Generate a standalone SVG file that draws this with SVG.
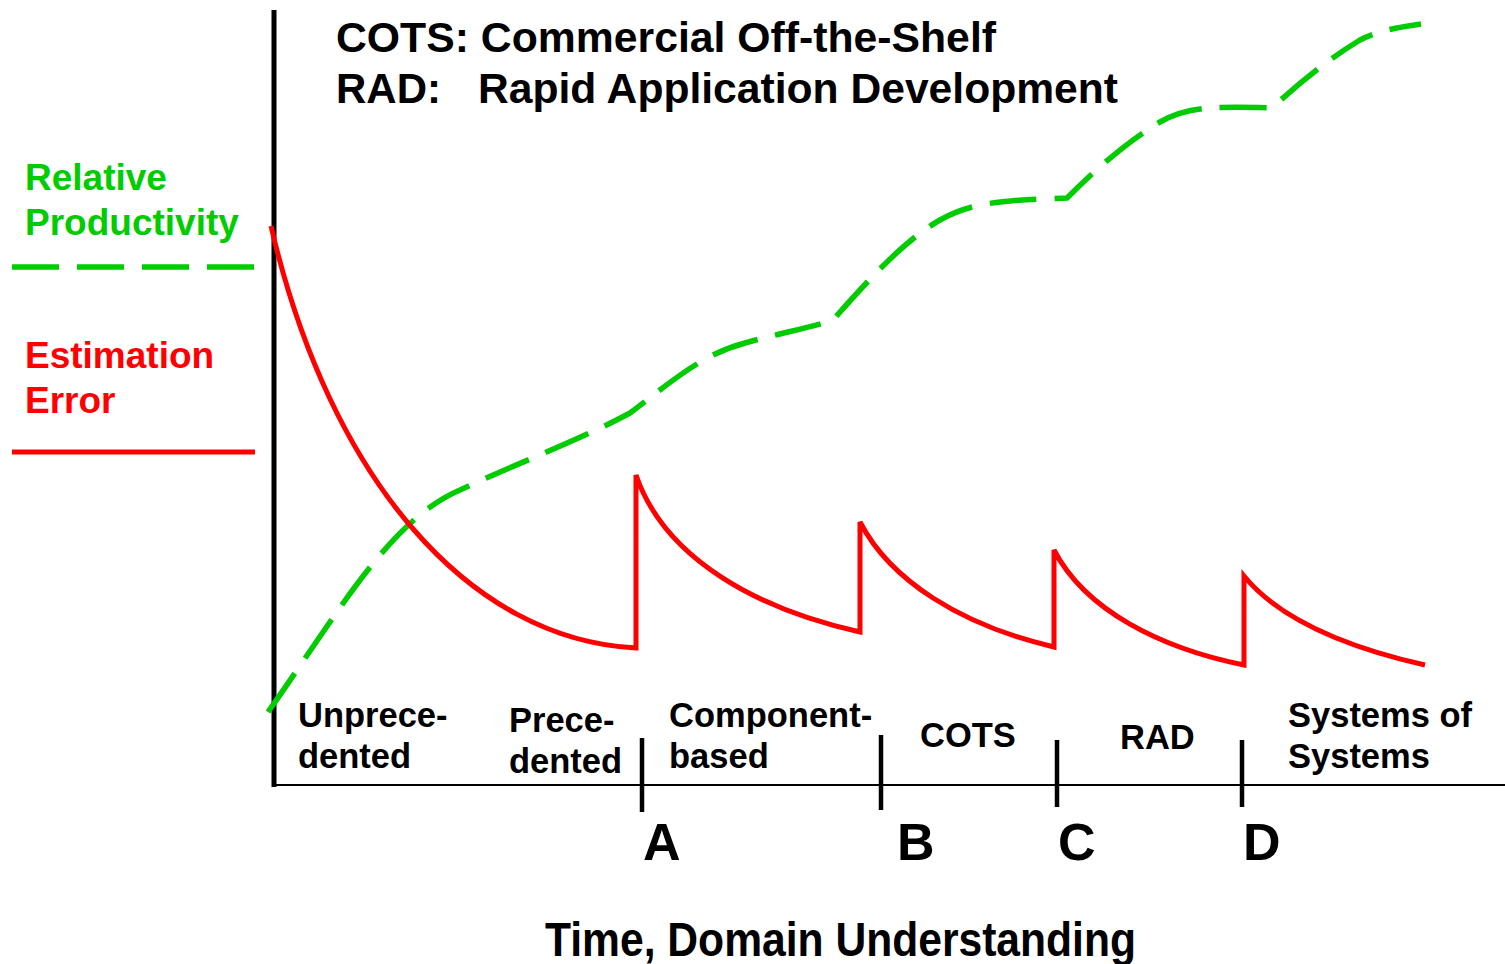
<svg xmlns="http://www.w3.org/2000/svg" width="1505" height="964" viewBox="0 0 1505 964">
<style>
text{font-family:"Liberation Sans",Arial,sans-serif;font-weight:bold;fill:#000}
.t{font-size:42px}
.ph{font-size:34.5px}
.lt{font-size:52px}
.g{fill:#00CC00;font-size:37px}
.r{fill:#FF0000;font-size:37px}
.gl{fill:none;stroke:#00CC00;stroke-width:5.5;stroke-dasharray:47 18}
.rl{fill:none;stroke:#FF0000;stroke-width:5;stroke-linejoin:miter}
.ax{stroke:#000;fill:none}
</style>
<rect width="1505" height="964" fill="#fff"/>
<g id="title">
<text class="t" x="336" y="52" textLength="660" lengthAdjust="spacingAndGlyphs">COTS: Commercial Off-the-Shelf</text>
<text class="t" x="336" y="103">RAD:</text>
<text class="t" x="478" y="103" textLength="640" lengthAdjust="spacingAndGlyphs">Rapid Application Development</text>
</g>
<g id="legend">
<text class="g" x="25" y="190">Relative</text>
<text class="g" x="25" y="235">Productivity</text>
<line class="gl" x1="12" y1="267" x2="255" y2="267" stroke-dasharray="48 17"/>
<text class="r" x="25" y="368">Estimation</text>
<text class="r" x="25" y="413">Error</text>
<line class="rl" x1="12" y1="452" x2="255" y2="452"/>
</g>
<g id="axes">
<line class="ax" x1="274" y1="10" x2="274" y2="787" stroke-width="5"/>
<line class="ax" x1="272" y1="785" x2="1505" y2="785" stroke-width="2"/>
<line class="ax" x1="642" y1="738" x2="642" y2="812" stroke-width="4.5"/>
<line class="ax" x1="881" y1="735" x2="881" y2="810" stroke-width="4.5"/>
<line class="ax" x1="1057" y1="740" x2="1057" y2="807" stroke-width="4.5"/>
<line class="ax" x1="1242" y1="740" x2="1242" y2="807" stroke-width="4.5"/>
</g>
<g id="connectors">
<path id="productivity" class="gl" d="M268,712 C340,610 390,520 460,490 C520,462 580,440 630,413 C670,383 700,355 745,343 C780,333 810,328 833,320 C870,278 905,240 940,220 C970,203 1000,200 1067,198 C1100,165 1130,140 1160,122 C1185,108 1205,106 1272,108 C1300,82 1330,58 1360,40 C1380,30 1400,27 1421,24"/>
<path id="error" class="rl" d="M271,226 C330,480 470,640 636,648 L636,475 C665,560 760,610 860,632 L860,522 C890,580 960,625 1054,647 L1054,550 C1085,610 1160,648 1244,665 L1244,576 C1280,620 1350,648 1425,665"/>
</g>
<g id="phases">
<text class="ph" x="298" y="727">Unprece-</text>
<text class="ph" x="298" y="768">dented</text>
<text class="ph" x="509" y="732">Prece-</text>
<text class="ph" x="509" y="773">dented</text>
<text class="ph" x="669" y="727">Component-</text>
<text class="ph" x="669" y="768">based</text>
<text class="ph" x="920" y="747">COTS</text>
<text class="ph" x="1120" y="749">RAD</text>
<text class="ph" x="1288" y="727">Systems of</text>
<text class="ph" x="1288" y="768">Systems</text>
</g>
<g id="markers">
<text class="lt" x="643" y="860">A</text>
<text class="lt" x="897" y="860">B</text>
<text class="lt" x="1058" y="860">C</text>
<text class="lt" x="1243" y="860">D</text>
</g>
<g id="xlabel">
<text x="545" y="956" font-size="48" textLength="591" lengthAdjust="spacingAndGlyphs">Time, Domain Understanding</text>
</g>
</svg>
